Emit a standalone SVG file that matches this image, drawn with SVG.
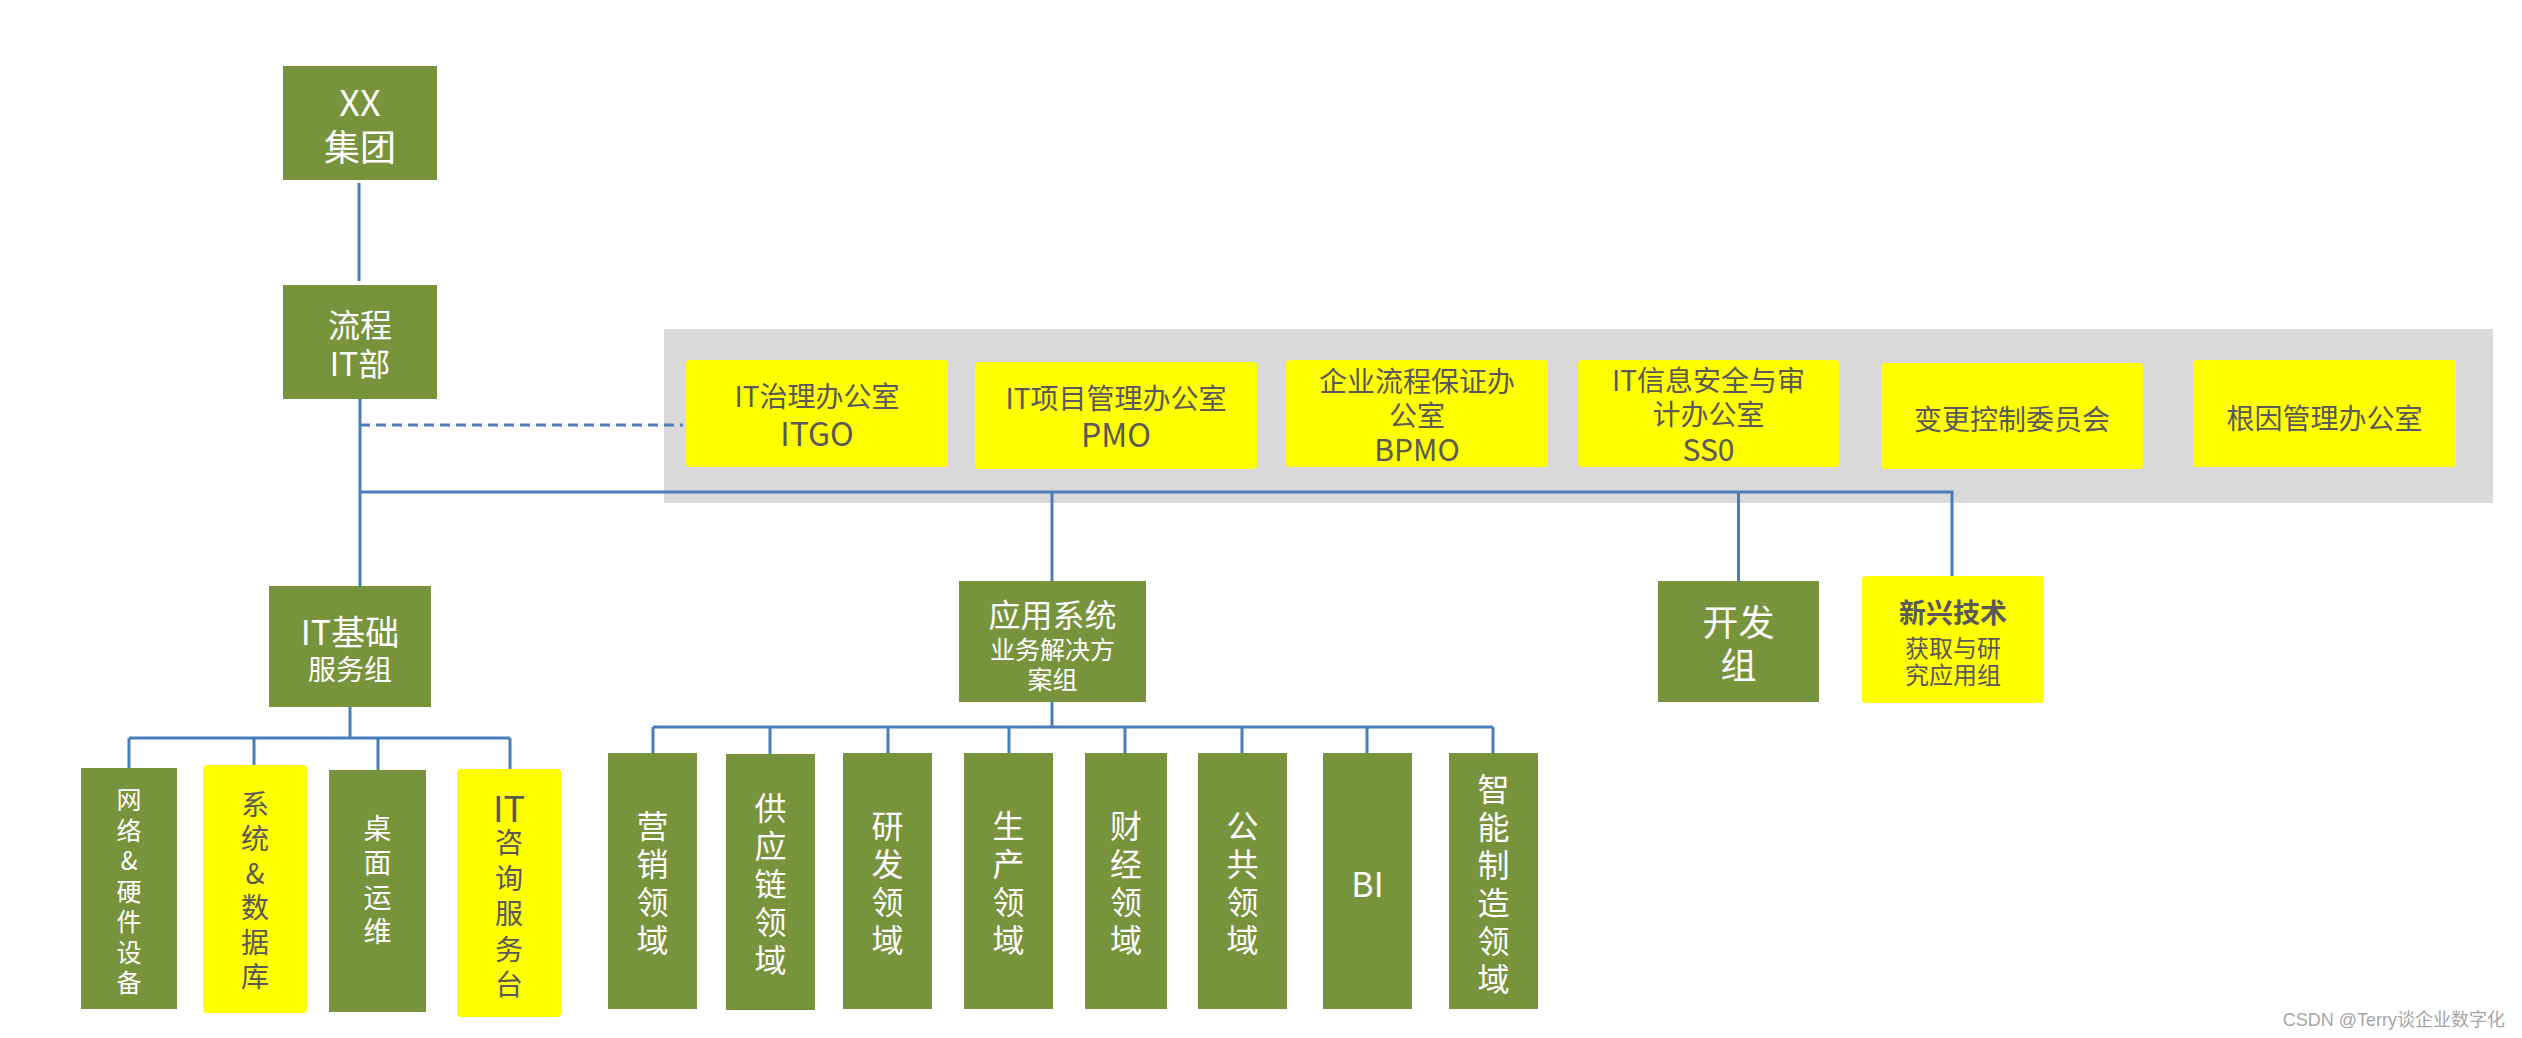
<svg xmlns="http://www.w3.org/2000/svg" width="2522" height="1038" viewBox="0 0 2522 1038">
<style>
text{font-family:"Noto Sans CJK SC","Noto Sans",sans-serif;text-anchor:middle;dominant-baseline:central}
.g{fill:#77933C}
.y{fill:#FFFF00}
.w{fill:#FFFFFF}
.d{fill:#595959}
.ln{stroke:#4A7EBB;stroke-width:3;fill:none}
</style>
<rect x="0" y="0" width="2522" height="1038" fill="#FFFFFF"/>
<rect id="panel" x="664" y="329" width="1829" height="174" fill="#D9D9D9"/>
<g id="connectors">
<path class="ln" d="M359,183 V281"/>
<path class="ln" d="M360,399 V586"/>
<path class="ln" d="M360,492 H1952 V577"/>
<path class="ln" d="M1052,492 V581"/>
<path class="ln" d="M1738.5,492 V581"/>
<path class="ln" d="M360,425 H683" stroke-dasharray="10,6"/>
<path class="ln" d="M1052,702 V727 M653,727 H1493 M653,727 V753 M770,727 V754 M888,727 V753 M1009,727 V753 M1125,727 V753 M1242,727 V753 M1367,727 V753 M1493,727 V753"/>
<path class="ln" d="M350,707 V738 M129,738 H510 M129,738 V768 M254,738 V765 M378,738 V770 M510,738 V769"/>
</g>
<g id="xx-group">
<rect class="g" x="283" y="66" width="154" height="114"/>
<text class="w" x="360" y="100" font-size="36">XX</text>
<text class="w" x="360" y="145" font-size="36">集团</text>
</g>
<g id="process-it">
<rect class="g" x="283" y="285" width="154" height="114"/>
<text class="w" x="360" y="323" font-size="32">流程</text>
<text class="w" x="360" y="362" font-size="32">IT部</text>
</g>
<g id="itgo">
<rect class="y" x="686" y="360" width="262" height="107" rx="4"/>
<text class="d" x="817" y="395" font-size="28">IT治理办公室</text>
<text class="d" x="817" y="432" font-size="32">ITGO</text>
</g>
<g id="pmo">
<rect class="y" x="975" y="362" width="282" height="107" rx="4"/>
<text class="d" x="1116" y="397" font-size="28">IT项目管理办公室</text>
<text class="d" x="1116" y="433" font-size="32">PMO</text>
</g>
<g id="bpmo">
<rect class="y" x="1286" y="360" width="262" height="107" rx="4"/>
<text class="d" x="1417" y="380" font-size="28">企业流程保证办</text>
<text class="d" x="1417" y="414" font-size="28">公室</text>
<text class="d" x="1417" y="448" font-size="30">BPMO</text>
</g>
<g id="sso">
<rect class="y" x="1578" y="360" width="261" height="107" rx="4"/>
<text class="d" x="1708.5" y="379" font-size="28">IT信息安全与审</text>
<text class="d" x="1708.5" y="413" font-size="28">计办公室</text>
<text class="d" x="1708.5" y="448" font-size="30">SS0</text>
</g>
<g id="ccb">
<rect class="y" x="1881" y="363" width="262" height="106" rx="4"/>
<text class="d" x="2012" y="418" font-size="28">变更控制委员会</text>
</g>
<g id="rca">
<rect class="y" x="2193" y="360" width="263" height="107" rx="4"/>
<text class="d" x="2324.5" y="417" font-size="28">根因管理办公室</text>
</g>
<g id="it-infra">
<rect class="g" x="269" y="586" width="162" height="121"/>
<text class="w" x="350" y="630" font-size="34">IT基础</text>
<text class="w" x="350" y="668" font-size="28">服务组</text>
</g>
<g id="app-sys">
<rect class="g" x="959" y="581" width="187" height="121"/>
<text class="w" x="1052.5" y="613" font-size="32">应用系统</text>
<text class="w" x="1052.5" y="648" font-size="25">业务解决方</text>
<text class="w" x="1052.5" y="678" font-size="25">案组</text>
</g>
<g id="dev">
<rect class="g" x="1658" y="581" width="161" height="121"/>
<text class="w" x="1738.5" y="620" font-size="36">开发</text>
<text class="w" x="1738.5" y="663" font-size="36">组</text>
</g>
<g id="emerging">
<rect class="y" x="1862" y="576" width="182" height="127" rx="4"/>
<text class="d" x="1953" y="611" font-size="27" font-weight="bold">新兴技术</text>
<text class="d" x="1953" y="646" font-size="24">获取与研</text>
<text class="d" x="1953" y="673" font-size="24">究应用组</text>
</g>
<g id="network">
<rect class="g" x="81" y="768" width="96" height="241"/>
<text class="w" font-size="25"><tspan x="129" y="798">网</tspan><tspan x="129" y="828.5">络</tspan><tspan x="129" y="859">&amp;</tspan><tspan x="129" y="889.5">硬</tspan><tspan x="129" y="920">件</tspan><tspan x="129" y="950.5">设</tspan><tspan x="129" y="981">备</tspan></text>
</g>
<g id="sysdb">
<rect class="y" x="203" y="765" width="104" height="248" rx="4"/>
<text class="d" font-size="28"><tspan x="255" y="803">系</tspan><tspan x="255" y="837.4">统</tspan><tspan x="255" y="871.8">&amp;</tspan><tspan x="255" y="906.2">数</tspan><tspan x="255" y="940.6">据</tspan><tspan x="255" y="975">库</tspan></text>
</g>
<g id="desktop">
<rect class="g" x="329" y="770" width="97" height="242"/>
<text class="w" font-size="28"><tspan x="377.5" y="827">桌</tspan><tspan x="377.5" y="861.3">面</tspan><tspan x="377.5" y="895.6">运</tspan><tspan x="377.5" y="930">维</tspan></text>
</g>
<g id="helpdesk">
<rect class="y" x="457" y="769" width="104" height="248" rx="4"/>
<text class="d" font-size="28"><tspan x="509" y="806" font-size="36">IT</tspan><tspan x="509" y="841.4">咨</tspan><tspan x="509" y="876.8">询</tspan><tspan x="509" y="912.2">服</tspan><tspan x="509" y="947.6">务</tspan><tspan x="509" y="983">台</tspan></text>
</g>
<g id="marketing">
<rect class="g" x="608" y="753" width="89" height="256"/>
<text class="w" font-size="32"><tspan x="652.5" y="824">营</tspan><tspan x="652.5" y="862">销</tspan><tspan x="652.5" y="900">领</tspan><tspan x="652.5" y="938">域</tspan></text>
</g>
<g id="supply">
<rect class="g" x="726" y="754" width="89" height="256"/>
<text class="w" font-size="32"><tspan x="770.5" y="806">供</tspan><tspan x="770.5" y="844">应</tspan><tspan x="770.5" y="882">链</tspan><tspan x="770.5" y="920">领</tspan><tspan x="770.5" y="958">域</tspan></text>
</g>
<g id="rnd">
<rect class="g" x="843" y="753" width="89" height="256"/>
<text class="w" font-size="32"><tspan x="887.5" y="824">研</tspan><tspan x="887.5" y="862">发</tspan><tspan x="887.5" y="900">领</tspan><tspan x="887.5" y="938">域</tspan></text>
</g>
<g id="production">
<rect class="g" x="964" y="753" width="89" height="256"/>
<text class="w" font-size="32"><tspan x="1008.5" y="824">生</tspan><tspan x="1008.5" y="862">产</tspan><tspan x="1008.5" y="900">领</tspan><tspan x="1008.5" y="938">域</tspan></text>
</g>
<g id="finance">
<rect class="g" x="1085" y="753" width="82" height="256"/>
<text class="w" font-size="32"><tspan x="1126" y="824">财</tspan><tspan x="1126" y="862">经</tspan><tspan x="1126" y="900">领</tspan><tspan x="1126" y="938">域</tspan></text>
</g>
<g id="public">
<rect class="g" x="1198" y="753" width="89" height="256"/>
<text class="w" font-size="32"><tspan x="1242.5" y="824">公</tspan><tspan x="1242.5" y="862">共</tspan><tspan x="1242.5" y="900">领</tspan><tspan x="1242.5" y="938">域</tspan></text>
</g>
<g id="bi">
<rect class="g" x="1323" y="753" width="89" height="256"/>
<text class="w" x="1367.5" y="882" font-size="34">BI</text>
</g>
<g id="smart-mfg">
<rect class="g" x="1449" y="753" width="89" height="256"/>
<text class="w" font-size="32"><tspan x="1493.5" y="787">智</tspan><tspan x="1493.5" y="825">能</tspan><tspan x="1493.5" y="863">制</tspan><tspan x="1493.5" y="901">造</tspan><tspan x="1493.5" y="939">领</tspan><tspan x="1493.5" y="977">域</tspan></text>
</g>
<text x="2505" y="1020" font-size="18" fill="#A6A6A6" style="text-anchor:end;font-family:'Liberation Sans','Noto Sans CJK SC',sans-serif">CSDN @Terry谈企业数字化</text>
</svg>
